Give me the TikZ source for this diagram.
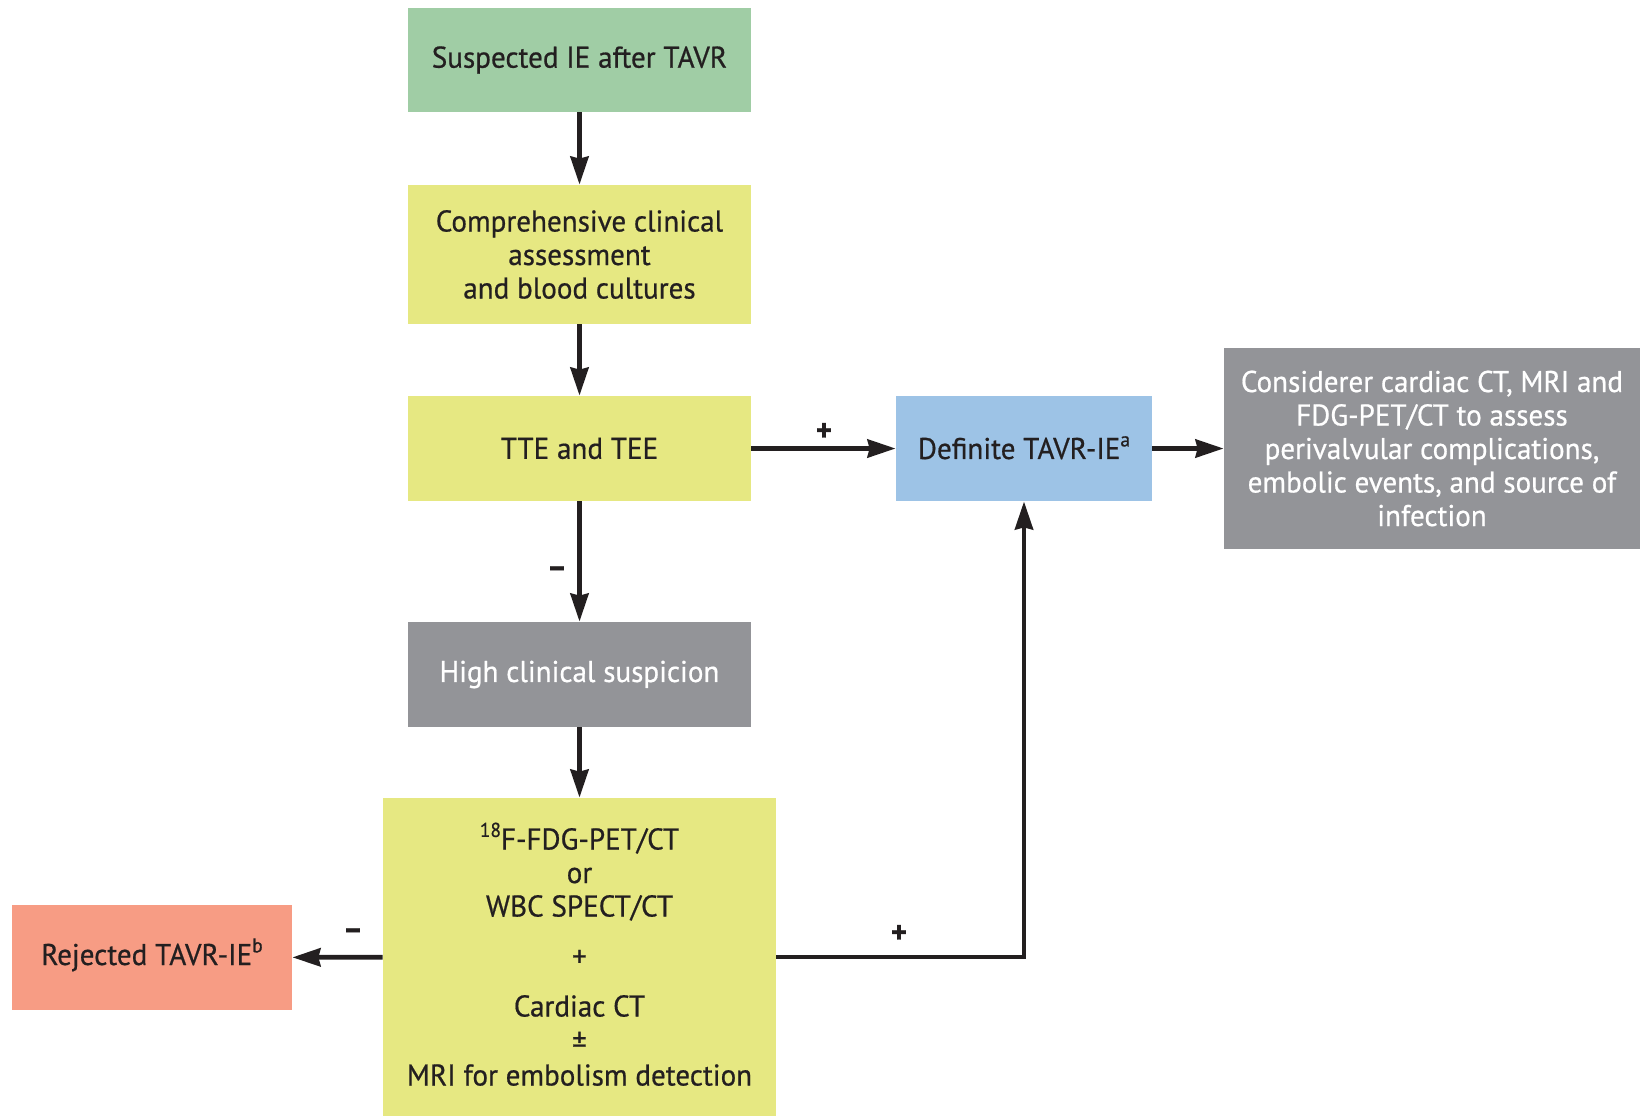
\documentclass[tikz,border=0pt]{standalone}
\usepackage{fontspec}
\setmainfont{PT Sans}[FakeBold=0.6,FakeStretch=0.97]
\usetikzlibrary{arrows.meta}
\definecolor{boxgreen}{RGB}{160,205,165}
\definecolor{boxyellow}{RGB}{230,232,130}
\definecolor{boxgray}{RGB}{147,148,152}
\definecolor{boxblue}{RGB}{157,195,230}
\definecolor{boxsalmon}{RGB}{247,156,132}
\definecolor{ink}{RGB}{35,31,32}
\newcommand{\supmark}[1]{\smash{\raisebox{0.42em}{\fontsize{10pt}{10pt}\selectfont #1}}}
\tikzset{
  box/.style={inner sep=0pt, align=center, text=ink,
    font=\fontsize{15pt}{16.75pt}\selectfont},
  flow/.style={draw=ink, line width=2.4pt,
    -{Stealth[length=14pt,width=9pt,inset=1pt]}},
  sign/.style={text=ink, font=\fontsize{16pt}{16pt}\selectfont\bfseries, inner sep=0pt}
}
\begin{document}
\begin{tikzpicture}[x=0.5pt,y=-0.5pt]
\useasboundingbox (0,0) rectangle (1640,1116);
\fill[white] (0,0) rectangle (1640,1116);

% boxes of the flow
\node[box, fill=boxgreen, minimum width=171.5pt, minimum height=52pt]
  (susp) at (579.5,60) {Suspected IE after TAVR};
\node[box, fill=boxyellow, minimum width=171.5pt, minimum height=69.5pt]
  (assess) at (579.5,254.5) {Comprehensive clinical\\assessment\\and blood cultures};
\node[box, fill=boxyellow, minimum width=171.5pt, minimum height=52.5pt]
  (echo) at (579.5,448.5) {TTE and TEE};
\node[box, fill=boxgray, text=white, minimum width=171.5pt, minimum height=52.5pt]
  (high) at (579.5,674.5) {High clinical suspicion};
\node[box, fill=boxyellow, minimum width=196.5pt, minimum height=159pt]
  (imaging) at (579.5,957) {\supmark{18}F-FDG-PET/CT\\or\\WBC SPECT/CT\\[8.25pt]+\\[8.25pt]Cardiac CT\\[1pt]±\\MRI for embolism detection};
\node[box, fill=boxsalmon, minimum width=140pt, minimum height=52.5pt]
  (reject) at (152,957.5) {Rejected TAVR-IE\supmark{b}};
\node[box, fill=boxblue, minimum width=128pt, minimum height=52.5pt]
  (definite) at (1024,448.5) {Definite TAVR-IE\supmark{a}};
\node[box, fill=boxgray, text=white, minimum width=208pt, minimum height=100.5pt]
  (consider) at (1432,448.5) {Considerer cardiac CT, MRI and\\FDG-PET/CT to assess\\perivalvular complications,\\embolic events, and source of\\infection};

% connectors
\coordinate (turn) at (definite.south |- imaging.east);
\draw[flow] (susp) -- (assess);
\draw[flow] (assess) -- (echo);
\draw[flow] (echo) -- (definite);
\draw[flow] (echo) -- (high);
\draw[flow] (high) -- (imaging);
\draw[flow] (imaging) -- (reject);
\draw[flow] (imaging.east) -- (turn) -- (definite.south);
\draw[flow] (definite) -- (consider);

% outcome signs
\node[sign] (pos1) at (824,432) {+};
\node[sign] (neg1) at (557,572) {–};
\node[sign] (neg2) at (353,934) {–};
\node[sign] (pos2) at (899,934) {+};
\end{tikzpicture}
\end{document}
